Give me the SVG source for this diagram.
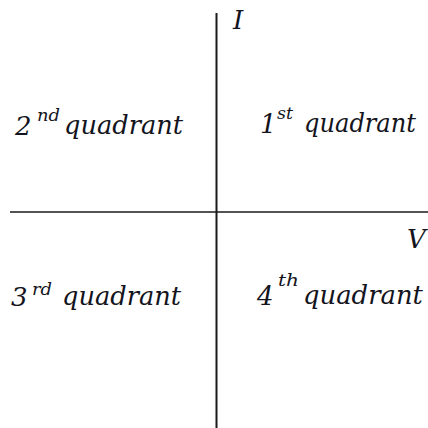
<svg xmlns="http://www.w3.org/2000/svg" width="428" height="428" viewBox="0 0 428 428">
<style>
.t{font-family:"DejaVu Serif","Liberation Serif",serif;font-style:italic;fill:#141420}
.m{font-size:26px}
.s{font-size:17px}
.ax{stroke:#1a1a1a;fill:none}
</style>
<rect width="428" height="428" fill="#fff"/>
<g id="axes">
<line class="ax" x1="216.5" y1="13" x2="216.5" y2="428" stroke-width="2"/>
<line class="ax" x1="10" y1="212" x2="428" y2="212" stroke-width="1.6"/>
</g>
<g id="label-I"><text class="t m" x="233" y="29">I</text></g>
<g id="label-V"><text class="t m" x="407" y="248">V</text></g>
<g id="q2">
<text class="t m" x="15" y="135">2</text>
<text class="t s" x="37" y="121" textLength="23" lengthAdjust="spacingAndGlyphs">nd</text>
<text class="t m" x="64" y="134" textLength="119" lengthAdjust="spacingAndGlyphs">quadrant</text>
</g>
<g id="q1">
<text class="t m" x="260" y="133">1</text>
<text class="t s" x="277" y="119" textLength="16" lengthAdjust="spacingAndGlyphs">st</text>
<text class="t m" x="304" y="132" textLength="112" lengthAdjust="spacingAndGlyphs">quadrant</text>
</g>
<g id="q3">
<text class="t m" x="11" y="306">3</text>
<text class="t s" x="32" y="295" textLength="20" lengthAdjust="spacingAndGlyphs">rd</text>
<text class="t m" x="62" y="305" textLength="119" lengthAdjust="spacingAndGlyphs">quadrant</text>
</g>
<g id="q4">
<text class="t m" x="257" y="305">4</text>
<text class="t s" x="278" y="286" textLength="21" lengthAdjust="spacingAndGlyphs">th</text>
<text class="t m" x="303" y="304" textLength="120" lengthAdjust="spacingAndGlyphs">quadrant</text>
</g>
</svg>
